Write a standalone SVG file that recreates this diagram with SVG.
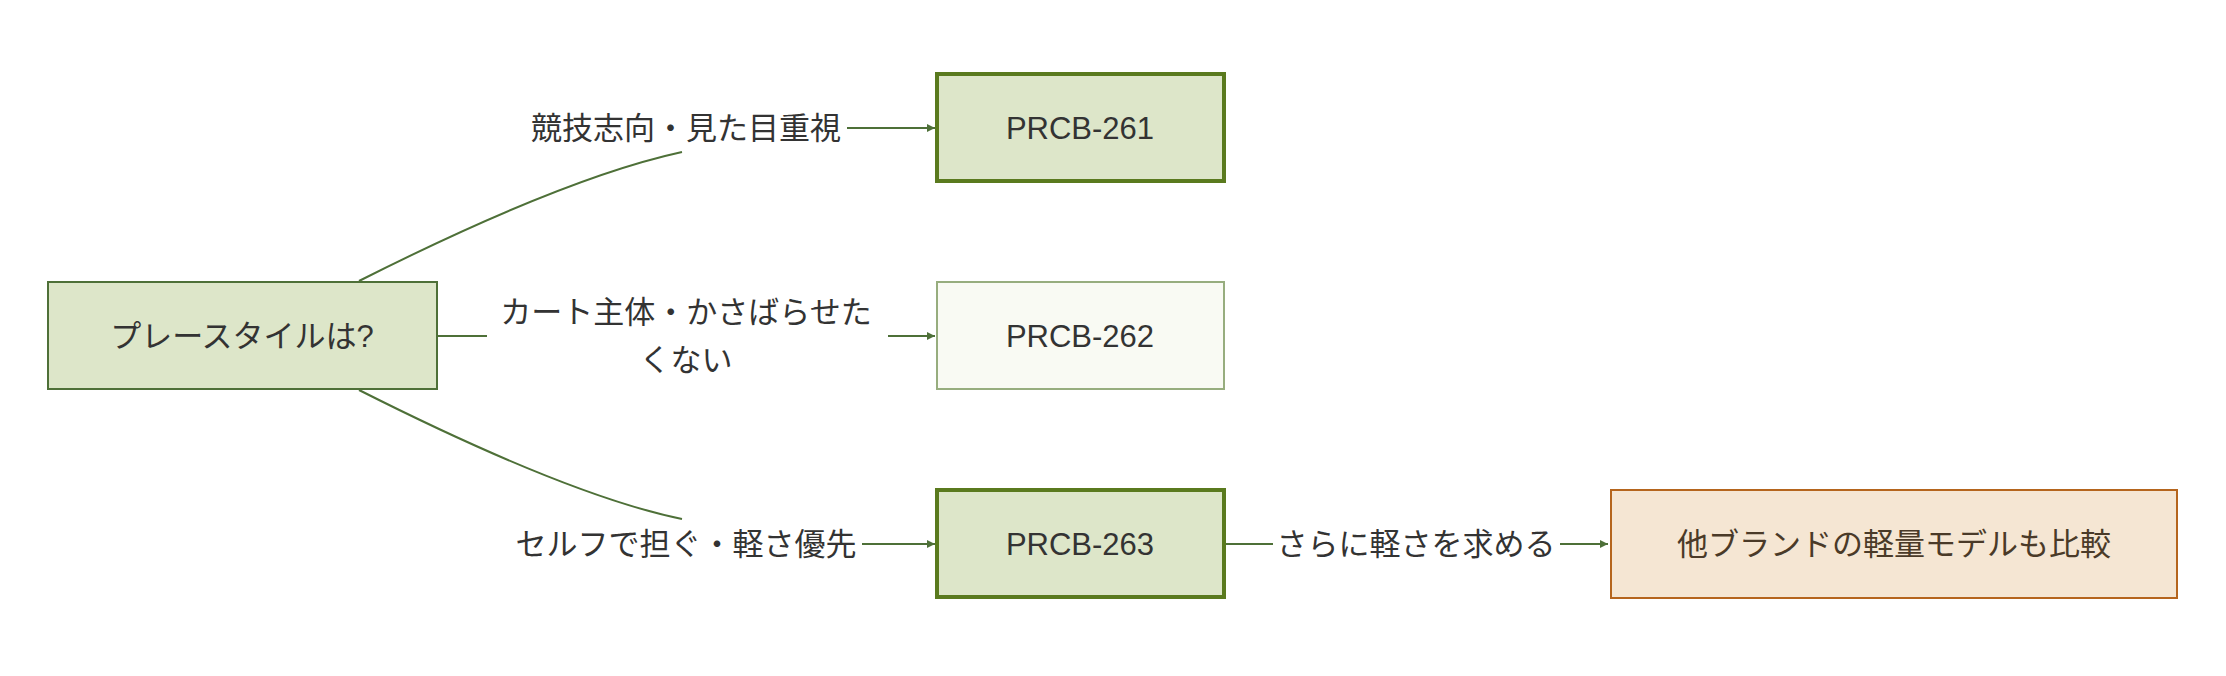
<svg xmlns="http://www.w3.org/2000/svg" width="2226" height="676" viewBox="0 0 2226 676">
<style>
text{font-family:"Liberation Sans","Noto Sans CJK JP",sans-serif;font-size:31px;fill:#333;text-anchor:middle;dominant-baseline:central}
.e{fill:none;stroke:#4e7038;stroke-width:2}
</style>
<defs><marker id="a" viewBox="0 0 10 10" refX="10" refY="5" markerWidth="8" markerHeight="8" markerUnits="userSpaceOnUse" orient="auto"><path d="M0,0L10,5L0,10z" fill="#4e7038"/></marker></defs>
<rect width="2226" height="676" fill="#fff"/>
<g id="connectors">
<path class="e" d="M359,281 C470,225 590,172 682,152"/>
<path class="e" d="M847,128 L935,128" marker-end="url(#a)" style="stroke-width:2"/>
<path class="e" d="M437,336 L487,336"/>
<path class="e" d="M888,336 L935,336" marker-end="url(#a)"/>
<path class="e" d="M359,390 C470,446 590,500 682,519"/>
<path class="e" d="M862,544 L935,544" marker-end="url(#a)"/>
<path class="e" d="M1224,544 L1273,544"/>
<path class="e" d="M1560,544 L1608,544" marker-end="url(#a)"/>
<text x="686" y="128">競技志向・見た目重視</text>
<text x="686" y="312">カート主体・かさばらせた</text>
<text x="686" y="360">くない</text>
<text x="686" y="544">セルフで担ぐ・軽さ優先</text>
<text x="1416" y="544">さらに軽さを求める</text>
</g>
<g id="start"><rect x="48" y="282" width="389" height="107" fill="#dde6c9" stroke="#4e7038" stroke-width="2"/><text x="242" y="336">プレースタイルは?</text></g>
<g id="n261"><rect x="937" y="74" width="287" height="107" fill="#dde6c9" stroke="#5a7a1e" stroke-width="4"/><text x="1080" y="128">PRCB-261</text></g>
<g id="n262"><rect x="937" y="282" width="287" height="107" fill="#f9faf3" stroke="#97ad7e" stroke-width="2"/><text x="1080" y="336">PRCB-262</text></g>
<g id="n263"><rect x="937" y="490" width="287" height="107" fill="#dde6c9" stroke="#5a7a1e" stroke-width="4"/><text x="1080" y="544">PRCB-263</text></g>
<g id="other"><rect x="1611" y="490" width="566" height="108" fill="#f5e6d3" stroke="#b5651d" stroke-width="2"/><text x="1894" y="544" style="fill:#4a3a28">他ブランドの軽量モデルも比較</text></g>
</svg>
